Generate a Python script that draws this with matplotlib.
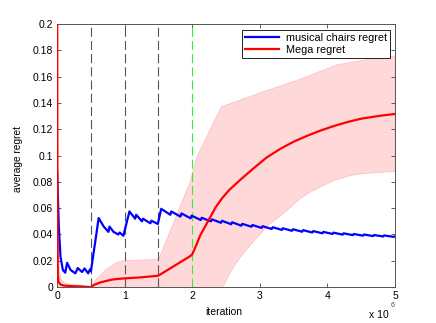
import numpy as np
import matplotlib as mpl
mpl.use('Agg')
import matplotlib.pyplot as plt

plt.rcParams['font.family'] = ['Liberation Sans', 'DejaVu Sans']
plt.rcParams['lines.scale_dashes'] = False

# iteration axis is in units of 1e6
blue_x = [0, 0.025, 0.05, 0.085, 0.12, 0.148, 0.2, 0.27, 0.305, 0.37, 0.405, 0.46, 0.485, 0.50,
          0.615, 0.69, 0.76, 0.775, 0.835, 0.905, 0.925, 0.98,
          1.07, 1.155, 1.17, 1.255, 1.27, 1.38, 1.395, 1.49,
          1.54, 1.675, 1.69, 1.825, 1.84, 1.975, 1.99, 2.125, 2.14, 2.275, 2.29, 2.425,
          2.44, 2.575, 2.59, 2.725, 2.74, 2.875, 2.89, 3.025, 3.04, 3.175, 3.19, 3.325,
          3.34, 3.475, 3.49, 3.625, 3.64, 3.775, 3.79, 3.925, 3.94, 4.075, 4.09, 4.225,
          4.24, 4.375, 4.39, 4.525, 4.54, 4.675, 4.69, 4.825, 4.84, 4.975, 5.0]
blue_y = [0.088, 0.046, 0.023, 0.013, 0.011, 0.0185, 0.013, 0.0105, 0.0145, 0.0115, 0.0142, 0.0105, 0.0135, 0.012,
          0.0525, 0.046, 0.042, 0.046, 0.042, 0.040, 0.0415, 0.039,
          0.0575, 0.052, 0.055, 0.050, 0.052, 0.0485, 0.0505, 0.048,
          0.0595, 0.0550, 0.0575, 0.0536, 0.0560, 0.0523, 0.0543, 0.0510, 0.0527, 0.0500, 0.0515, 0.0489,
          0.0504, 0.0478, 0.0493, 0.0467, 0.0481, 0.0459, 0.0472, 0.0450, 0.0463, 0.0442, 0.0455, 0.0435,
          0.0447, 0.0428, 0.0440, 0.0421, 0.0433, 0.0415, 0.0426, 0.0409, 0.0420, 0.0404, 0.0414, 0.0399,
          0.0409, 0.0395, 0.0404, 0.0391, 0.0400, 0.0388, 0.0396, 0.0385, 0.0393, 0.0382, 0.0386]

red_x = [0, 0.005, 0.01, 0.02, 0.05, 0.1, 0.2, 0.35, 0.5, 0.55, 0.64, 0.75, 0.83, 0.98, 1.23, 1.48, 1.5,
         1.97, 2.0, 2.06, 2.12, 2.2, 2.27, 2.35, 2.44, 2.55, 2.71, 2.9, 3.1, 3.3, 3.5, 3.7, 3.9,
         4.1, 4.3, 4.5, 4.75, 5.0]
red_y = [0.30, 0.05, 0.01, 0.004, 0.002, 0.0012, 0.0008, 0.0005, 0.0, 0.0018, 0.0036, 0.005, 0.0059, 0.0066,
         0.0074, 0.0086, 0.0088, 0.0236, 0.025, 0.032, 0.0396, 0.047, 0.0536, 0.061, 0.0675, 0.074,
         0.0815, 0.090, 0.0985, 0.105, 0.1105, 0.115, 0.119, 0.1225, 0.1255, 0.128, 0.130, 0.1316]

band_up_x = [0, 0.01, 0.02, 0.04, 0.07, 0.12, 0.2, 0.35, 0.5, 0.59, 0.74, 0.88, 0.98, 1.2, 1.48, 1.52,
             1.97, 2.07, 2.43, 3.0, 3.6, 4.15, 4.6, 5.0]
band_up_y = [0.30, 0.06, 0.022, 0.01, 0.005, 0.003, 0.002, 0.0015, 0.0003, 0.0066, 0.014, 0.0185, 0.020,
             0.0205, 0.021, 0.023, 0.080, 0.099, 0.137, 0.1475, 0.158, 0.169, 0.173, 0.1755]
band_lo_x = [0, 0.5, 1.0, 1.5, 2.0, 2.3, 2.45, 2.52, 2.61, 2.73, 2.86, 2.98, 3.1, 3.22, 3.35, 3.48,
             3.6, 3.72, 3.85, 3.97, 4.09, 4.22, 4.34, 4.46, 4.59, 4.8, 5.0]
band_lo_y = [-0.01, -0.001, -0.007, -0.004, -0.03, -0.015, 0.0, 0.007, 0.0155, 0.024, 0.032, 0.039,
             0.046, 0.051, 0.056, 0.062, 0.0675, 0.0715, 0.075, 0.078, 0.081, 0.083, 0.0848, 0.0858,
             0.0866, 0.0873, 0.0878]

grey_lines = [0.5, 1.0, 1.5]
green_line = 2.0

fig = plt.figure(figsize=(4.36, 3.23), dpi=100)
ax = fig.add_axes([0.131, 0.111, 0.775, 0.815])

# shaded band
ax.fill(np.concatenate([band_up_x, band_lo_x[::-1]]),
        np.concatenate([band_up_y, band_lo_y[::-1]]),
        facecolor='#FFD9D9', edgecolor='#FFBFBF', lw=0.6, zorder=1)

for xv in grey_lines:
    ax.axvline(xv, color='#555555', lw=0.8, ls=(0, (6.5, 3)), zorder=2)
ax.axvline(green_line, color='#33EE33', lw=0.8, ls=(0, (6.5, 3)), zorder=2)

ax.plot(blue_x, blue_y, color='#0000FF', lw=1.6, label='musical chairs regret', zorder=3)
ax.plot(red_x, red_y, color='#FF0000', lw=1.6, label='Mega regret', zorder=3)

ax.set_xlim(0, 5)
ax.set_ylim(0, 0.2)
ax.set_xticks([0, 1, 2, 3, 4, 5])
ax.set_yticks(np.arange(0, 0.201, 0.02))
ax.yaxis.set_major_formatter(mpl.ticker.FuncFormatter(lambda v, p: '%g' % round(v, 3)))
ax.tick_params(direction='in', length=3, width=0.6, colors='#444444', labelcolor='black',
               labelsize=7.5, top=True, right=True, pad=3)
for s in ax.spines.values():
    s.set_color('#555555')
    s.set_linewidth(0.7)

ax.set_xlabel('iteration', fontsize=7.5)
ax.set_ylabel('average regret', fontsize=7.3)
ax.xaxis.set_label_coords(0.494, -0.075)
ax.yaxis.set_label_coords(-0.1, 0.485)

ax.text(0.982, -0.087, 'x 10', transform=ax.transAxes, ha='right', va='top', fontsize=7.5)
ax.text(0.986, -0.058, '6', transform=ax.transAxes, ha='left', va='top', fontsize=5, color='#444444')

leg = ax.legend(loc='upper right', bbox_to_anchor=(0.985, 0.978), fontsize=7.8, fancybox=False,
                framealpha=1, edgecolor='black', borderaxespad=0, handlelength=3.1,
                borderpad=0.3, labelspacing=0.2, handletextpad=0.6)
leg.get_frame().set_linewidth(0.6)

fig.savefig('out.png', dpi=100)
